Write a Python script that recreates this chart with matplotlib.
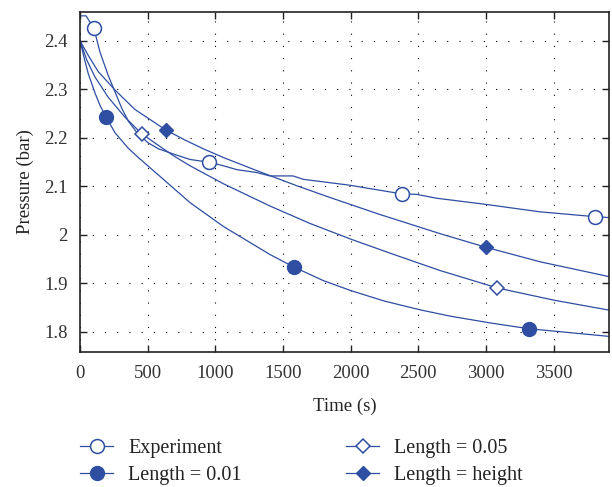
import numpy as np
import matplotlib
matplotlib.use('Agg')
import matplotlib.pyplot as plt

plt.rcParams['font.family'] = ['Liberation Serif', 'DejaVu Serif']
plt.rcParams['font.size'] = 13.5

# time (s) / pressure (bar)
t_exp = [0, 45, 103, 148, 209, 259, 308, 357, 419, 500, 579, 702, 813, 956, 1059,
         1158, 1306, 1404, 1575, 1651, 1990, 2377, 2488, 2636, 2981, 3400, 3806, 3917]
p_exp = [2.451, 2.451, 2.425, 2.376, 2.328, 2.294, 2.261, 2.234, 2.211, 2.19, 2.177,
         2.165, 2.155, 2.149, 2.142, 2.134, 2.128, 2.121, 2.121, 2.114, 2.102, 2.084,
         2.083, 2.075, 2.063, 2.047, 2.037, 2.035]
mk_exp = [2, 13, 21, 26]

t_001 = [0, 30, 61, 111, 150, 192, 259, 357, 443, 600, 813, 1059, 1404, 1582, 1800,
         2008, 2250, 2513, 2735, 3030, 3318, 3917]
p_001 = [2.40, 2.365, 2.332, 2.292, 2.265, 2.243, 2.21, 2.178, 2.156, 2.118, 2.066,
         2.017, 1.959, 1.933, 1.905, 1.884, 1.863, 1.845, 1.832, 1.818, 1.806, 1.790]
mk_001 = [5, 13, 20]

t_005 = [0, 50, 111, 209, 333, 456, 600, 700, 813, 1059, 1404, 1700, 2008, 2330,
         2661, 3085, 3500, 3917]
p_005 = [2.40, 2.36, 2.325, 2.283, 2.242, 2.208, 2.180, 2.161, 2.142, 2.105, 2.059,
         2.023, 1.990, 1.958, 1.926, 1.890, 1.865, 1.844]
mk_005 = [5, 15]

t_h = [0, 60, 135, 259, 406, 633, 776, 911, 1059, 1306, 1600, 1843, 2200, 2661,
       2999, 3400, 3917]
p_h = [2.40, 2.37, 2.336, 2.298, 2.258, 2.216, 2.195, 2.177, 2.159, 2.132, 2.101,
       2.077, 2.043, 2.002, 1.974, 1.944, 1.913]
mk_h = [5, 14]

blue = '#2e4ea2'

fig = plt.figure(figsize=(6.12, 4.87), dpi=100)
ax = fig.add_axes([0.1307, 0.2772, 0.8649, 0.6982])

ax.plot(t_exp, p_exp, color=blue, lw=0.9, marker='o', ms=10, mfc='white',
        mec=blue, mew=1.1, markevery=mk_exp, label='Experiment')
ax.plot(t_001, p_001, color=blue, lw=0.9, marker='o', ms=10, mfc=blue,
        mec=blue, markevery=mk_001, label='Length = 0.01')
ax.plot(t_005, p_005, color=blue, lw=0.9, marker='D', ms=7, mfc='white',
        mec=blue, mew=1.1, markevery=mk_005, label='Length = 0.05')
ax.plot(t_h, p_h, color=blue, lw=0.9, marker='D', ms=7, mfc=blue,
        mec=blue, markevery=mk_h, label='Length = height')

ax.set_xlim(0, 3912)
ax.set_ylim(1.758, 2.459)
ax.set_xticks(np.arange(0, 3501, 500))
ax.set_yticks([1.8, 1.9, 2.0, 2.1, 2.2, 2.3, 2.4])
ax.set_yticklabels(['1.8', '1.9', '2', '2.1', '2.2', '2.3', '2.4'])
ax.grid(True, color='black', linestyle=(0, (1, 10)), linewidth=0.8)
ax.tick_params(direction='in', top=True, right=True, length=5, width=1,
               colors='#222222', labelcolor='#333333', pad=9)
for s in ax.spines.values():
    s.set_linewidth(1.2)
    s.set_color('#222222')

ax.set_xlabel('Time (s)', color='#222222', labelpad=12)
ax.set_ylabel('Pressure (bar)', color='#222222', labelpad=7)

fig.legend(loc='upper left', bbox_to_anchor=(0.1307, 0.0992),
           ncol=2, frameon=False, borderaxespad=0, borderpad=0,
           handlelength=1.64, columnspacing=5.2, labelspacing=0.42,
           handletextpad=0.75, fontsize=14.5, labelcolor='#222222')

fig.savefig('out.png', dpi=100)
